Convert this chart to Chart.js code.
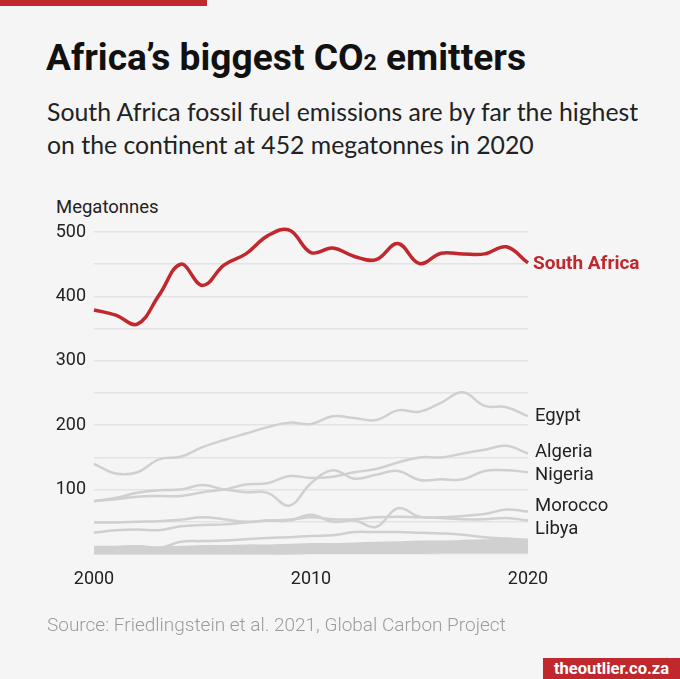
<!DOCTYPE html>
<html>
<head>
<meta charset="utf-8">
<script src="https://cdn.jsdelivr.net/npm/chart.js@4"></script>
<style>
  html, body { margin:0; padding:0; background:#f5f5f5; }
  body { width:680px; height:679px; position:relative; overflow:hidden; font-family: Roboto, sans-serif; }
  #bar { position:absolute; left:0; top:0; width:207px; height:6px; background:#c1282d; }
  #title { position:absolute; left:46px; top:40px; font-family: Roboto, sans-serif; font-weight:700; font-size:36px; color:#111; white-space:nowrap; transform-origin:0 0; line-height:1; }
  #title .sub { font-size:0.62em; }
  #subtitle { position:absolute; left:47px; top:95px; font-family: Lato, sans-serif; font-size:24.8px; line-height:33px; color:#222; white-space:nowrap; }
  #unit { position:absolute; left:56px; top:196px; font-size:18.5px; color:#222; }
  #source { position:absolute; left:47px; top:613px; font-size:19px; font-weight:300; color:#9b9b9b; white-space:nowrap; }
  #brand { position:absolute; left:543px; top:658px; width:137px; height:21px; background:#c1282d; color:#fff; font-weight:700; font-size:16.5px; line-height:21px; text-align:center; }
  #wrap { position:absolute; left:0; top:0; width:680px; height:679px; }
</style>
</head>
<body>
<div id="bar"></div>
<div id="title">Africa’s biggest CO<span class="sub">2</span> emitters</div>
<div id="subtitle">South Africa fossil fuel emissions are by far the highest<br>on the continent at 452 megatonnes in 2020</div>
<div id="unit">Megatonnes</div>
<div id="wrap"><canvas id="c"></canvas></div>
<div id="source">Source: Friedlingstein et al. 2021, Global Carbon Project</div>
<div id="brand">theoutlier.co.za</div>
<script>
const years = [2000,2001,2002,2003,2004,2005,2006,2007,2008,2009,2010,2011,2012,2013,2014,2015,2016,2017,2018,2019,2020];
const southAfrica = [379,371,357,402,450,417,449,466,494,503,468,475,462,457,482,451,467,466,466,477,452];
const egypt   = [140,125,127,147,151,166,177,187,197,204,202,214,211,208,223,221,235,251,230,228,214];
const algeria = [82,85,89,90,90,96,100,108,110,121,118,120,127,132,142,150,150,156,162,168,156];
const nigeria = [82,87,95,99,100,107,100,96,95,75,110,130,117,123,129,115,116,116,129,130,127];
const morocco = [33,37,38,37,43,45,46,49,52,53,57,54,54,57,58,57,57,59,62,69,66];
const libya   = [49,49,50,51,53,57,54,50,52,52,61,50,52,42,71,58,56,54,54,56,52];
const other1  = [10,10,12,9,19,20,21,23,25,26,28,29,34,34,34,33,32,30,26,24,22];
const other2  = [11,11,12,10,11,12,12,13,13,14,15,15,16,17,18,19,19,20,21,22,21];
const other3  = [9,9,10,9,10,10,11,11,12,12,13,13,14,15,16,17,18,18,19,20,19];
const other4  = [8,8,8,8,8,9,9,10,10,11,11,12,12,13,13,14,15,16,17,18,17];
const other5  = [7,7,7,7,7,8,8,8,9,9,10,10,11,11,12,12,13,14,15,16,15];
const other6  = [6,6,6,6,6,6,7,7,7,8,8,9,9,10,10,11,11,12,13,14,13];
const other7  = [5,5,5,5,5,5,5,6,6,6,7,7,7,8,8,9,9,10,11,12,11];
const other8  = [4,4,4,4,4,4,4,5,5,5,5,6,6,6,7,7,8,8,9,10,9];
const other9  = [3,3,3,3,3,3,3,3,4,4,4,4,5,5,5,6,6,6,7,8,7];
const other10 = [2,2,2,2,2,2,2,2,2,3,3,3,3,3,4,4,4,5,5,6,5];
const other11 = [1,1,1,1,1,1,1,1,1,1,2,2,2,2,2,2,3,3,3,3,3];
const yTickLabels = [100,200,300,400,500];
const xTickLabels = [2000,2010,2020];

const RED = '#c1282d', GREY = '#d0d0d0';
const labelled = [
  {name:'South Africa', data:southAfrica, nudge:1},
  {name:'Egypt', data:egypt, nudge:0},
  {name:'Algeria', data:algeria, nudge:-1},
  {name:'Nigeria', data:nigeria, nudge:3},
  {name:'Morocco', data:morocco, nudge:-5},
  {name:'Libya', data:libya, nudge:9}
];
const others = [other1,other2,other3,other4,other5,other6,other7,other8,other9,other10,other11];

const datasets = labelled.map((s,i)=>({
  label:s.name, data:s.data,
  borderColor: i===0 ? RED : GREY,
  borderWidth: i===0 ? 3.5 : 2.5,
  pointRadius:0, tension:0.4, clip:false, fill:false
})).concat(others.map((d,i)=>({
  label:'other'+(i+1), data:d, borderColor:GREY, borderWidth:2.5, pointRadius:0, tension:0.4, clip:false, fill:false
})));

const endLabels = {
  id:'endLabels',
  afterDatasetsDraw(chart){
    const {ctx, chartArea, scales:{y}} = chart;
    ctx.save();
    ctx.textBaseline='middle';
    labelled.forEach((s,i)=>{
      const v = s.data[s.data.length-1];
      const py = y.getPixelForValue(v) + s.nudge;
      ctx.font = (i===0 ? '700 19px Roboto' : '400 18.5px Roboto');
      ctx.fillStyle = i===0 ? RED : '#222';
      ctx.fillText(s.name, chartArea.right + (i===0 ? 5 : 7), py);
    });
    ctx.restore();
  }
};

new Chart(document.getElementById('c'), {
  type:'line',
  data:{ labels: years, datasets },
  options:{
    responsive:true, maintainAspectRatio:false, animation:false,
    layout:{ padding:{ top:232, right:152, bottom:0, left:0 } },
    plugins:{ legend:{display:false}, tooltip:{enabled:false} },
    scales:{
      x:{
        offset:false,
        grid:{ display:false, drawTicks:false },
        border:{ display:false },
        ticks:{ autoSkip:false, maxRotation:0, padding:15, color:'#222', font:{family:'Roboto', size:18},
          callback(v,i){ const yr = years[i]; return xTickLabels.includes(yr) ? String(yr) : ''; } },
        afterFit(s){ s.height = 679 - 554; }
      },
      y:{
        min:0, max:500,
        grid:{ color:'#e3e3e3', lineWidth:1.5, drawTicks:false },
        border:{ display:false },
        ticks:{ stepSize:50, padding:8, color:'#222', font:{family:'Roboto', size:18},
          callback(v){ return yTickLabels.includes(v) ? String(v) : ''; } },
        afterFit(s){ s.width = 94; }
      }
    }
  },
  plugins:[endLabels]
});

// fit title width to reference
const t = document.getElementById('title');
const w = t.getBoundingClientRect().width;
t.style.transform = 'scaleX(' + (480 / w) + ')';
</script>
</body>
</html>
